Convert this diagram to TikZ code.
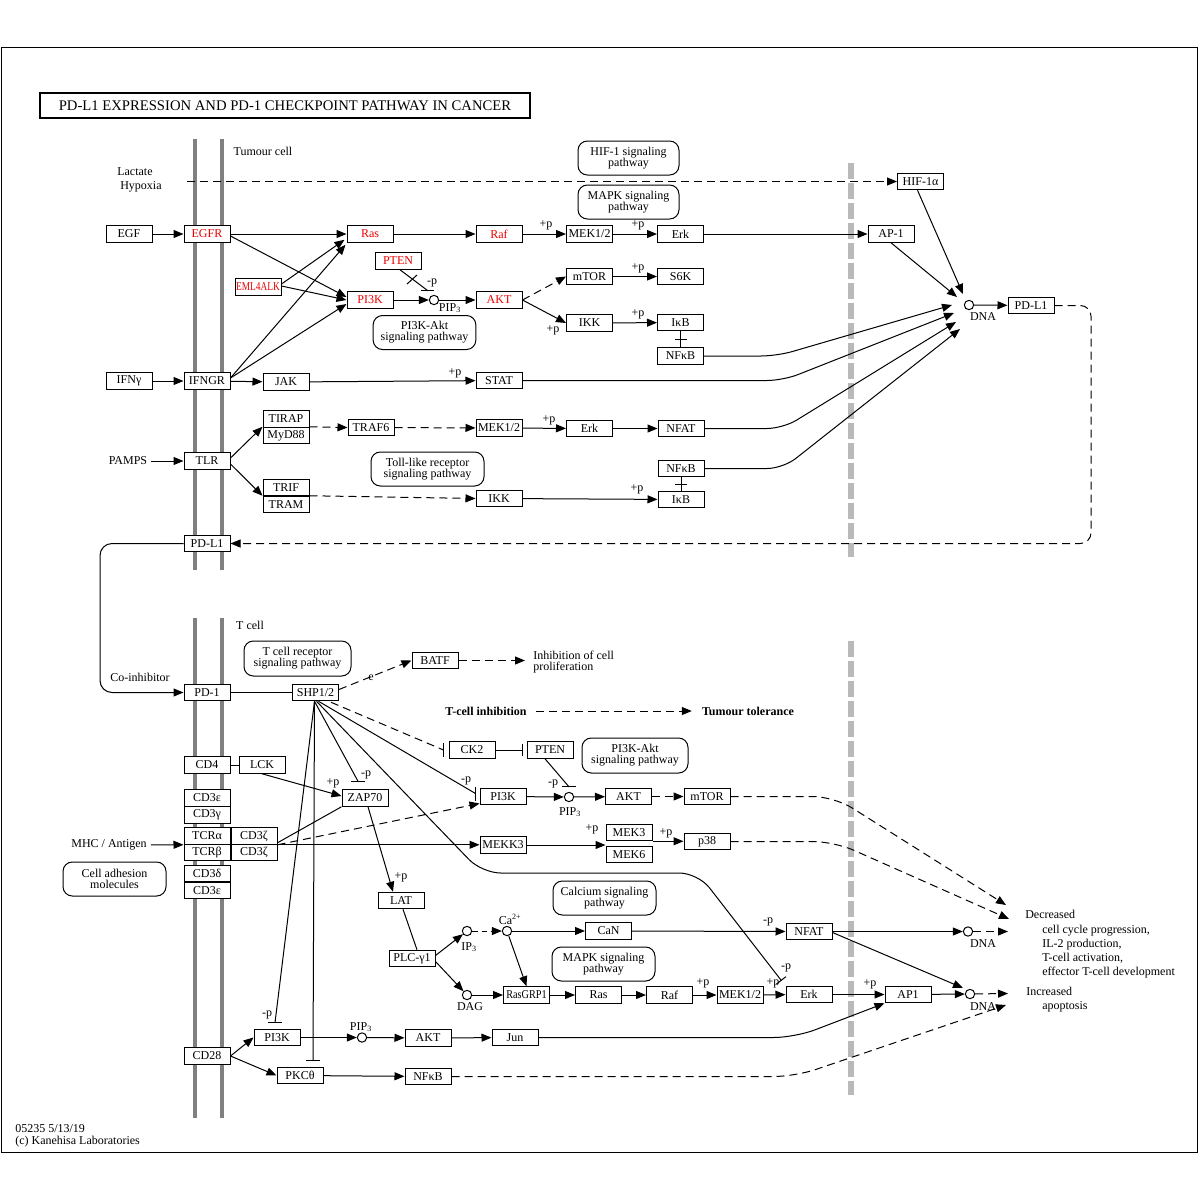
\documentclass[tikz,border=0pt]{standalone}
\usepackage{fontspec}
\setmainfont{Liberation Serif}
\usetikzlibrary{arrows.meta,calc}
\definecolor{kred}{RGB}{235,0,0}
\definecolor{memb}{RGB}{128,128,128}
\definecolor{divg}{RGB}{185,185,185}
\newcommand\kf{\fontsize{9}{10}\selectfont}
\newcommand\kpw{\fontsize{9}{8.4}\selectfont}
\begin{document}
\begin{tikzpicture}[x=0.75pt,y=-0.75pt,
 gene/.style={draw,fill=white,line width=0.75pt,minimum width=34.5pt,minimum height=12.4pt,inner sep=0pt,font=\kf},
 rgene/.style={gene,text=kred},
 pw/.style={draw,fill=white,line width=0.75pt,rounded corners=7pt,minimum width=77pt,minimum height=25.5pt,inner sep=0pt,align=center,font=\kpw},
 lbl/.style={inner sep=0pt,font=\kf},
 cpd/.style={circle,draw,fill=white,line width=0.75pt,minimum size=7pt,inner sep=0pt},
 ar/.style={line width=0.75pt,-{Triangle[length=7.5pt,width=6pt]}},
 inh/.style={line width=0.75pt,-{Bar[width=9pt]}},
 ln/.style={line width=0.75pt},
 dsh/.style={dash pattern=on 6pt off 3.75pt},
 barl/.style={line width=0.75pt},
]
\fill[white] (0,0) rectangle (1200,1200);
\useasboundingbox (0,0) rectangle (1200,1200);
\draw[line width=0.75pt] (1,47) rectangle (1197,1152);
% membranes and dividers
\foreach \mx in {195,222} {
  \draw[memb,line width=3pt] (\mx,139) -- (\mx,570);
  \draw[memb,line width=3pt] (\mx,618) -- (\mx,1118);
}
\draw[divg,line width=4.5pt,dash pattern=on 12pt off 3pt] (851,163) -- (851,557);
\draw[divg,line width=4.5pt,dash pattern=on 12pt off 3pt] (851,641) -- (851,1095);

% title
\node[draw,line width=1.5pt,minimum width=367.5pt,minimum height=18.75pt,inner sep=0pt,font=\fontsize{11}{12}\selectfont] (title) at (285,105.5) {PD-L1 EXPRESSION AND PD-1 CHECKPOINT PATHWAY IN CANCER};

% ---------- Tumour cell ----------
\node[lbl] (tumourlbl) at (263,151) {Tumour cell};
\node[lbl,anchor=west,align=left,font=\fontsize{9}{10.5}\selectfont] (lachyp) at (117,180) {Lactate\\\ Hypoxia};
\node[pw,minimum width=75.75pt] (hif1pw) at (628.5,158) {HIF-1 signaling\\pathway};
\node[pw,minimum width=75.75pt] (mapkpw1) at (628.5,202) {MAPK signaling\\pathway};
\node[gene] (hif) at (920.5,181.5) {HIF-1α};
\node[gene] (egf) at (129,234) {EGF};
\node[rgene] (egfr) at (207,234) {EGFR};
\node[rgene] (ras1) at (370,234) {Ras};
\node[rgene] (raf1) at (499,234) {Raf};
\node[gene] (mek1) at (589.5,234) {MEK1/2};
\node[gene] (erk1) at (680.5,234) {Erk};
\node[gene] (ap1t) at (891,234) {AP-1};
\node[rgene] (pten1) at (398,261) {PTEN};
\node[rgene] (eml) at (258,287) {\scalebox{0.78}[1]{EML4ALK}};
\node[rgene] (pi3k1) at (370,300) {PI3K};
\node[cpd] (pip1) at (434,300) {};
\node[rgene] (akt1) at (499,300) {AKT};
\node[gene] (mtor1) at (589.5,276.5) {mTOR};
\node[gene] (s6k) at (680.5,276.5) {S6K};
\node[gene] (ikk1) at (589.5,323) {IKK};
\node[gene] (ikb1) at (680.5,322.5) {IκB};
\node[gene] (nfkb1) at (680.5,356) {NFκB};
\node[pw] (pi3kpw1) at (424.5,332.5) {PI3K-Akt\\signaling pathway};
\node[cpd] (dna0) at (969,305) {};
\node[lbl] (dna0l) at (983,317) {DNA};
\node[gene] (pdl1t) at (1031,305.5) {PD-L1};
\node[gene] (ifng) at (129,381) {IFNγ};
\node[gene] (ifngr) at (207,381) {IFNGR};
\node[gene] (jak) at (286,382) {JAK};
\node[gene] (stat) at (499,380.5) {STAT};
\node[gene,minimum height=12.4pt] (tirap) at (286,419) {TIRAP};
\node[gene,minimum height=12.4pt] (myd88) at (286,435.5) {MyD88};
\node[gene] (traf6) at (371,427.5) {TRAF6};
\node[gene] (mek2) at (499,428) {MEK1/2};
\node[gene] (erk2) at (589.5,428.5) {Erk};
\node[gene] (nfat1) at (681,428.5) {NFAT};
\node[lbl] (pamps) at (128,461) {PAMPS};
\node[gene] (tlr) at (207,461) {TLR};
\node[pw,minimum width=84.75pt] (tollpw) at (427.5,469) {Toll-like receptor\\signaling pathway};
\node[gene] (trif) at (286,487.5) {TRIF};
\node[gene] (tram) at (286,504.5) {TRAM};
\node[gene] (ikk2) at (499,498.5) {IKK};
\node[gene] (nfkb2) at (681,468.5) {NFκB};
\node[gene] (ikb2) at (681,499.5) {IκB};
\node[gene] (pdl1m) at (207,543.5) {PD-L1};

% edges tumour
\coordinate (hypo) at (187,181.5);
\draw[ar,dsh] (hypo) -- (hif.west);
\draw[ar] (egf) -- (egfr);
\draw[ar] (egfr) -- (ras1);
\draw[ar] ($(egfr.east)+(0,2)$) -- ($(pi3k1.west)+(0,-3)$);
\draw[ar] ($(eml.east)+(0,-3)$) -- ($(ras1.south west)+(-2,-3)$);
\draw[ar] ($(eml.east)+(0,-1)$) -- (pi3k1.west);
\draw[ar] ($(ifngr.east)+(0,-3)$) -- ($(ras1.south west)+(-1,2)$);
\draw[ar] ($(ifngr.east)+(0,-3)$) -- ($(pi3k1.west)+(0,4)$);
\draw[ar] (ifngr) -- (jak);
\draw[ar] (jak) -- (stat);
\node[lbl] at (455,373) {+p};
\draw[ar] (ras1) -- (raf1);
\draw[ar] (raf1) -- (mek1);
\node[lbl] at (546,225) {+p};
\draw[ar] (mek1) -- (erk1);
\node[lbl] at (638,225) {+p};
\draw[ar] (erk1) -- (ap1t);
\draw[ln] ($(pten1.south)+(2,0)$) -- ($(pip1.north)+(-6,-4)$);
\draw[barl] ($(pip1.north)+(-13,-4)$) -- ++(13,0);
\draw[ln] (407,284) -- (417,275);
\node[lbl] at (432,283) {-p};
\draw[ar] (pi3k1) -- (pip1);
\node[lbl] (pip1l) at (450,308) {PIP\textsubscript{3}};
\draw[ar] (pip1) -- (akt1);
\draw[ar,dsh] (akt1.east) -- (mtor1.west);
\draw[ar] (akt1.east) -- (ikk1.west);
\node[lbl] at (553,330) {+p};
\draw[ar] (mtor1) -- (s6k);
\node[lbl] at (638,268) {+p};
\draw[ar] (ikk1) -- (ikb1);
\node[lbl] at (638,314) {+p};
\draw[ln] (ikb1) -- (nfkb1);
\draw[ln] ($(ikb1.south)!0.5!(nfkb1.north)+(-6,0)$) -- ++(12,0);
\draw[ar] ($(hif.south)+(-3,0)$) -- ($(dna0)+(-6,-11)$);
\draw[ar] (ap1t.south) -- ($(dna0)+(-12,-8)$);
\draw[ar] (dna0) -- (pdl1t);
\draw[ar,rounded corners=12pt] (nfkb1.east) -- (777,356) -- ($(dna0)+(-17,0)$);
\draw[ar,rounded corners=12pt] (stat.east) -- (783,380.5) -- ($(dna0)+(-15,8)$);
\draw[ar,rounded corners=12pt] (nfat1.east) -- (783,428.5) -- ($(dna0)+(-13,17)$);
\draw[ar,rounded corners=12pt] (nfkb2.east) -- (783,468.5) -- ($(dna0)+(-9,24)$);
\draw[ar,dsh,rounded corners=8pt] (pdl1t.east) -- (1091,305.5) -- (1091,543.5) -- (pdl1m.east);
\draw[ar] (ifng) -- (ifngr);
\draw[ar,shorten <=3pt] (pamps) -- (tlr);
\draw[ar] ($(tlr.east)+(0,-3)$) -- (myd88.north west);
\draw[ar] ($(tlr.east)+(0,3)$) -- (tram.north west);
\draw[ar,dsh] (myd88.north east) -- (traf6.west);
\draw[ar,dsh] (traf6) -- (mek2);
\draw[ar] (mek2) -- (erk2);
\node[lbl] at (549,420) {+p};
\draw[ar] (erk2) -- (nfat1);
\draw[ar,dsh] (tram.north east) -- (ikk2.west);
\draw[ar] (ikk2) -- (ikb2);
\node[lbl] at (637,489) {+p};
\draw[ln] (nfkb2) -- (ikb2);
\draw[ln] ($(nfkb2.south)!0.5!(ikb2.north)+(-6,0)$) -- ++(12,0);

% ---------- T cell ----------
\node[lbl] (tcelllbl) at (250,625) {T cell};
\node[pw,minimum width=80.25pt,minimum height=26.25pt] (tcrpw) at (297.5,658.5) {T cell receptor\\signaling pathway};
\node[lbl] (coinh) at (140,677) {Co-inhibitor};
\node[gene] (pd1) at (207,692.5) {PD-1};
\node[gene] (shp) at (315.5,692.5) {SHP1/2};
\node[gene] (batf) at (435,660.5) {BATF};
\node[lbl,anchor=west,align=left,font=\kpw] (inhib) at (533,662) {Inhibition of cell\\proliferation};
\node[lbl,font=\kf\bfseries] (tinh) at (486,711) {T-cell inhibition};
\node[lbl,font=\kf\bfseries] (ttol) at (748,711) {Tumour tolerance};
\node[gene] (ck2) at (472,750) {CK2};
\node[gene] (pten2) at (550,750) {PTEN};
\node[pw,minimum width=79.5pt,minimum height=26.25pt] (pi3kpw2) at (635,755.5) {PI3K-Akt\\signaling pathway};
\node[gene] (cd4) at (207,765) {CD4};
\node[gene] (lck) at (262,765) {LCK};
\node[gene] (zap70) at (365,798) {ZAP70};
\node[gene] (pi3k2) at (503,796.5) {PI3K};
\node[cpd] (pip2) at (569,797) {};
\node[gene] (akt2) at (628.5,796.5) {AKT};
\node[gene] (mtor2) at (707,796.5) {mTOR};
\node[gene] (cd3e1) at (207,798) {CD3ε};
\node[gene] (cd3g) at (207,815) {CD3γ};
\node[gene] (tcra) at (207,836) {TCRα};
\node[gene] (tcrb) at (207,852.5) {TCRβ};
\node[gene] (cd3z1) at (254,836) {CD3ζ};
\node[gene] (cd3z2) at (254,852.5) {CD3ζ};
\node[gene] (mek3) at (629,832.5) {MEK3};
\node[gene] (mek6) at (629,854.5) {MEK6};
\node[gene] (p38) at (707,841.5) {p38};
\node[gene] (mekk3) at (503,845) {MEKK3};
\node[lbl] (mhc) at (109,845) {MHC / Antigen};
\node[pw,minimum width=77.25pt] (cellad) at (114.5,879) {Cell adhesion\\molecules};
\node[gene] (cd3d) at (207,873.5) {CD3δ};
\node[gene] (cd3e2) at (207,890.5) {CD3ε};
\node[gene] (lat) at (401,900.5) {LAT};
\node[gene] (plc) at (412,958.5) {PLC-γ1};
\node[cpd] (ip3) at (467,931) {};
\node[cpd] (dag) at (467,995) {};
\node[cpd] (ca) at (507,931) {};
\node[lbl] (ip3l) at (469,947) {IP\textsubscript{3}};
\node[lbl] (dagl) at (470,1007) {DAG};
\node[lbl] (cal) at (510,919) {Ca\textsuperscript{2+}};
\node[gene] (can) at (608.5,931) {CaN};
\node[pw,minimum width=77.25pt] (calcpw) at (604.5,898) {Calcium signaling\\pathway};
\node[pw,minimum width=77.25pt] (mapkpw2) at (603.5,964) {MAPK signaling\\pathway};
\node[gene] (rasgrp) at (526.5,995) {\scalebox{0.85}[1]{RasGRP1}};
\node[gene] (ras3) at (598.5,995) {Ras};
\node[gene] (raf3) at (669.5,995) {Raf};
\node[gene] (mek4) at (740,995) {MEK1/2};
\node[gene] (erk3) at (809,994.5) {Erk};
\node[gene] (nfat2) at (809,931.5) {NFAT};
\node[gene] (ap1) at (908,994.5) {AP1};
\node[cpd] (dna1) at (968,931.5) {};
\node[cpd] (dna2) at (970,994) {};
\node[lbl] (dna1l) at (983,944) {DNA};
\node[lbl] (dna2l) at (983,1007) {DNA};
\node[gene] (cd28) at (207,1056) {CD28};
\node[gene] (pi3k3) at (277,1037.5) {PI3K};
\node[gene] (pkc) at (300,1075.5) {PKCθ};
\node[cpd] (pip3c) at (362,1037.5) {};
\node[lbl] (pip3cl) at (361,1027) {PIP\textsubscript{3}};
\node[gene] (akt3) at (428,1038) {AKT};
\node[gene] (jun) at (515,1037.5) {Jun};
\node[gene] (nfkb3) at (428,1076.5) {NFκB};

% right texts
\node[lbl,anchor=west] (decr) at (1025,914) {Decreased};
\node[lbl,anchor=west] at (1042,930.5) {cell cycle progression,};
\node[lbl,anchor=west] at (1042,944.5) {IL-2 production,};
\node[lbl,anchor=west] at (1042,958.5) {T-cell activation,};
\node[lbl,anchor=west] at (1042,972.5) {effector T-cell development};
\node[lbl,anchor=west] (incr) at (1026,991.5) {Increased};
\node[lbl,anchor=west] at (1042,1007) {apoptosis};

% footer
\node[lbl,anchor=west] at (15,1129) {05235 5/13/19};
\node[lbl,anchor=west] at (15,1141.5) {(c) Kanehisa Laboratories};

% edges T cell
\draw[ar,rounded corners=9pt] (pdl1m.west) -- (100,543.5) -- (100,692.5) -- (pd1.west);
\draw[ln] (pd1) -- (shp);
\draw[ar,dsh] ($(shp.east)+(0,-3)$) -- (batf.west);
\node[lbl] at (371,678) {e};
\coordinate (inhtip) at (525,660.5);
\draw[ar,dsh] (batf) -- (inhtip);
\draw[ar,dsh] ($(tinh.east)+(9,0)$) -- ($(ttol.west)+(-10,0)$);
% SHP fan
\draw[ln,dsh] ($(shp.south east)+(-8,1)$) -- ($(ck2.west)+(-5,0)$);
\draw[barl] ($(ck2.west)+(-5,-7)$) -- ++(0,14);
\draw[inh] (ck2) -- ($(pten2.west)+(-4,0)$);
\draw[ln] ($(shp.south)+(3,0)$) -- ($(pi3k2.west)+(-4,-3)$);
\draw[barl] ($(pi3k2.west)+(-4,-10)$) -- ++(0,14);
\node[lbl] at (466,781) {-p};
\draw[inh,rounded corners=14pt] ($(shp.south)+(1,0)$) -- (482,873) -- (698,873) -- ($(erk3.north west)+(-4,-5)$);
\node[lbl] at (786,968) {-p};
\draw[ln] ($(shp.south)+(-1,0)$) -- ($(zap70.north)+(-7,-8)$);
\draw[barl] ($(zap70.north)+(-14,-8)$) -- ++(14,0);
\node[lbl] at (366,775) {-p};
\draw[ln] ($(shp.south)+(-1,0)$) -- ($(pi3k3.north)+(-2,-6)$);
\draw[barl] ($(pi3k3.north)+(-9,-6)$) -- ++(14,0);
\node[lbl] at (267,1015) {-p};
\draw[ln] ($(shp.south)+(-1,0)$) -- ($(pkc.north)+(13,-6)$);
\draw[barl] ($(pkc.north)+(6,-6)$) -- ++(14,0);
% TCR
\draw[ar,shorten <=3pt] (mhc) -- (tcra.south west);
\draw[ln] (cd4) -- (lck);
\draw[ar] (lck.south) -- ($(zap70.west)+(0,-2)$);
\node[lbl] at (333,783) {+p};
\draw[ln] ($(cd3z1.south east)+(0,-2)$) -- (zap70.south west);
\draw[ar,dsh] (cd3z1.south east) -- ($(pi3k2.west)+(0,7)$);
\draw[ar] (cd3z1.south east) -- (mekk3.west |- cd3z1.south east);
\draw[ar] (mekk3) -- (mekk3.east -| mek6.west);
\node[lbl] at (592,829) {+p};
\draw[ar] (mek3.south east) -- (p38.west |- mek3.south east);
\node[lbl] at (666,833) {+p};
\draw[ar] ($(zap70.south)+(3,0)$) -- ($(lat.north)+(-8,0)$);
\node[lbl] at (401,877) {+p};
\draw[ar] (pi3k2) -- (pip2);
\draw[ar] (pip2) -- (akt2);
\draw[ar,dsh] (akt2) -- (mtor2);
\node[lbl] (pip2l) at (570,812) {PIP\textsubscript{3}};
\draw[ln] ($(pten2.south)+(-5,0)$) -- ($(pip2.north)+(0,-5)$);
\draw[barl] ($(pip2.north)+(-7,-5)$) -- ++(14,0);
\node[lbl] at (553,784) {-p};
\coordinate (decA) at (1006,905);
\coordinate (decB) at (1009,919);
\draw[ar,dsh,rounded corners=16pt] (mtor2) -- (834,796.5) -- (decA);
\draw[ar,dsh,rounded corners=16pt] (p38) -- (834,841.5) -- (decB);
% LAT / PLC
\draw[ln] ($(lat.south)+(2,0)$) -- ($(plc.north)+(5,0)$);
\draw[ar] ($(plc.east)+(0,-3)$) -- (ip3);
\draw[ar] ($(plc.east)+(0,3)$) -- (dag);
\draw[ar,dash pattern=on 4pt off 3pt] (ip3) -- (ca);
\draw[ar] (ca) -- (can);
\draw[ar] (ca) -- (rasgrp.north);
\draw[ar] (dag) -- (rasgrp);
\draw[ar] (rasgrp) -- (ras3);
\draw[ar] (ras3) -- (raf3);
\draw[ar] (raf3) -- (mek4);
\node[lbl] at (703,983) {+p};
\draw[ar] (mek4) -- (erk3);
\node[lbl] at (773,983) {+p};
\draw[ar] (can) -- (nfat2);
\node[lbl] at (768,922) {-p};
\draw[ar] (erk3) -- (ap1);
\node[lbl] at (870,984) {+p};
\draw[ar] (nfat2) -- (dna1);
\draw[ar] ($(nfat2.east)+(0,1)$) -- ($(dna2)+(-7,-6)$);
\draw[ar] (ap1) -- (dna2);
\coordinate (outA) at (1008,931.5);
\coordinate (outB) at (1008,993.5);
\coordinate (outC) at (1006,1005);
\draw[ar,dsh] (dna1) -- (outA);
\draw[ar,dsh] (dna2) -- (outB);
% CD28
\draw[ar] (cd28.east) -- (pi3k3.west);
\draw[ar] (cd28.east) -- (pkc.west);
\draw[ar] (pi3k3) -- (pip3c);
\draw[ar] (pip3c) -- (akt3);
\draw[ar] (akt3) -- (jun);
\draw[ar] (pkc) -- (nfkb3);
\draw[ar,rounded corners=16pt] (jun) -- (795,1037.5) -- (ap1.south west);
\draw[ar,dsh,rounded corners=16pt] (nfkb3) -- (795,1076.5) -- (outC);
\end{tikzpicture}
\end{document}
